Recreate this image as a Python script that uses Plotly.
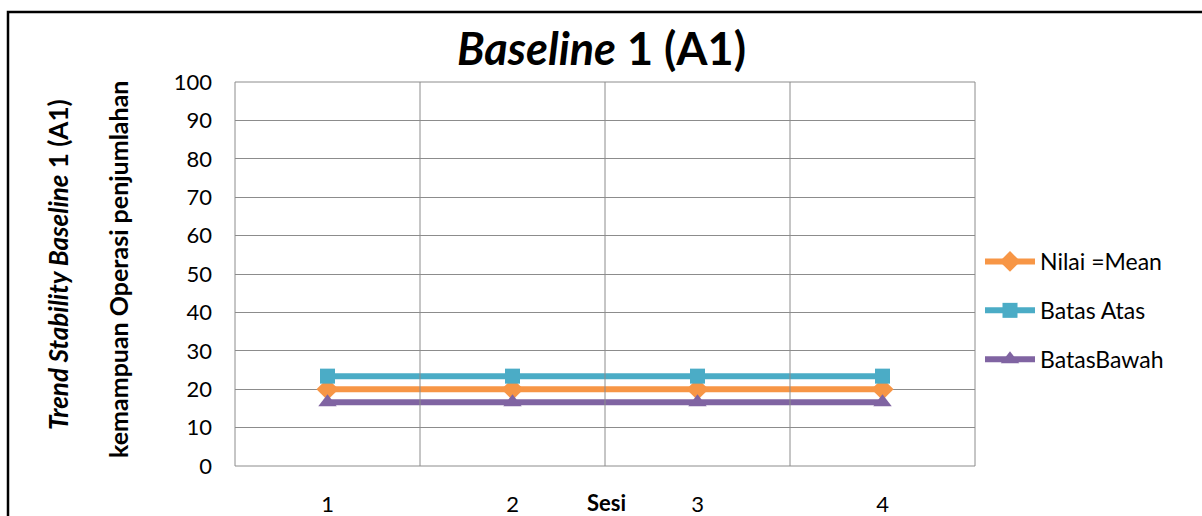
import plotly.graph_objects as go

sesi = [1, 2, 3, 4]
sesi_labels = ["1", "2", "3", "4"]
mean_vals = [20, 20, 20, 20]
atas_vals = [23.4, 23.4, 23.4, 23.4]
bawah_vals = [16.6, 16.6, 16.6, 16.6]
y_ticks = [0, 10, 20, 30, 40, 50, 60, 70, 80, 90, 100]

FONT = "Lato, 'Open Sans', sans-serif"

fig = go.Figure()
series = [
    ("Nilai =Mean", mean_vals, "#F79646", "diamond", 17),
    ("Batas Atas", atas_vals, "#4BACC6", "square", 15),
    ("BatasBawah", bawah_vals, "#8064A2", "triangle-up", 16),
]
for i, (name, vals, col, sym, sz) in enumerate(series):
    fig.add_trace(go.Scatter(
        x=sesi, y=vals, name=name, mode="lines+markers",
        line=dict(color=col, width=6),
        marker=dict(symbol=sym, size=sz, color=col),
        legendgroup=f"g{i}",
    ))

W, H = 1202, 516
L, R, T, B = 235, 227, 82, 50
pw, ph = W - L - R, H - T - B

def px(x):
    return (x - L) / pw

def py(y):
    return (H - B - y) / ph

fig.update_layout(
    width=W, height=H,
    margin=dict(l=L, r=R, t=T, b=B, autoexpand=False),
    paper_bgcolor="white", plot_bgcolor="white",
    font=dict(family=FONT, color="black"),
    showlegend=True,
    legend=dict(
        x=px(980), y=py(240), xanchor="left", yanchor="top",
        font=dict(size=23, family=FONT, color="black"),
        tracegroupgap=16, bgcolor="rgba(0,0,0,0)", itemwidth=50,
    ),
    xaxis=dict(
        range=[0.5, 4.5], tickvals=sesi, ticktext=sesi_labels,
        showgrid=False, zeroline=False, showline=False,
        ticks="", tickfont=dict(size=22, family=FONT),
        ticklabelstandoff=23, fixedrange=True, automargin=False,
    ),
    yaxis=dict(
        range=[0, 100], tickvals=y_ticks,
        showgrid=True, gridcolor="#8c8c8c", gridwidth=1,
        zeroline=False, showline=False, ticks="",
        tickfont=dict(size=22, family=FONT),
        ticklabelstandoff=22, fixedrange=True, automargin=False,
    ),
    shapes=[
        dict(type="rect", xref="paper", yref="paper", x0=0, x1=1, y0=0, y1=1,
             line=dict(color="#8c8c8c", width=1)),
        *[dict(type="line", xref="x", yref="paper", x0=v, x1=v, y0=0, y1=1,
               line=dict(color="#8c8c8c", width=1)) for v in [1.5, 2.5, 3.5]],
        dict(type="rect", xref="paper", yref="paper",
             x0=px(8), x1=px(1260), y0=py(560), y1=py(12),
             line=dict(color="black", width=2.5), layer="above"),
    ],
    annotations=[
        dict(text="<b><i>Baseline</i> 1 (A1)</b>", xref="paper", yref="paper",
             x=px(601), y=py(48), xanchor="center", yanchor="middle",
             showarrow=False, font=dict(size=45, family=FONT)),
        dict(text="<b><i>Trend Stability Baseline</i> 1 (A1)</b>", xref="paper", yref="paper",
             x=px(58), y=py(265), xanchor="center", yanchor="middle", textangle=-90,
             showarrow=False, font=dict(size=26, family=FONT)),
        dict(text="<b>kemampuan Operasi penjumlahan</b>", xref="paper", yref="paper",
             x=px(118), y=py(270), xanchor="center", yanchor="middle", textangle=-90,
             showarrow=False, font=dict(size=25, family=FONT)),
        dict(text="<b>Sesi</b>", xref="paper", yref="paper",
             x=px(606), y=py(502), xanchor="center", yanchor="middle",
             showarrow=False, font=dict(size=22, family=FONT)),
    ],
)

fig.write_html("out.html", config={"displayModeBar": False})
